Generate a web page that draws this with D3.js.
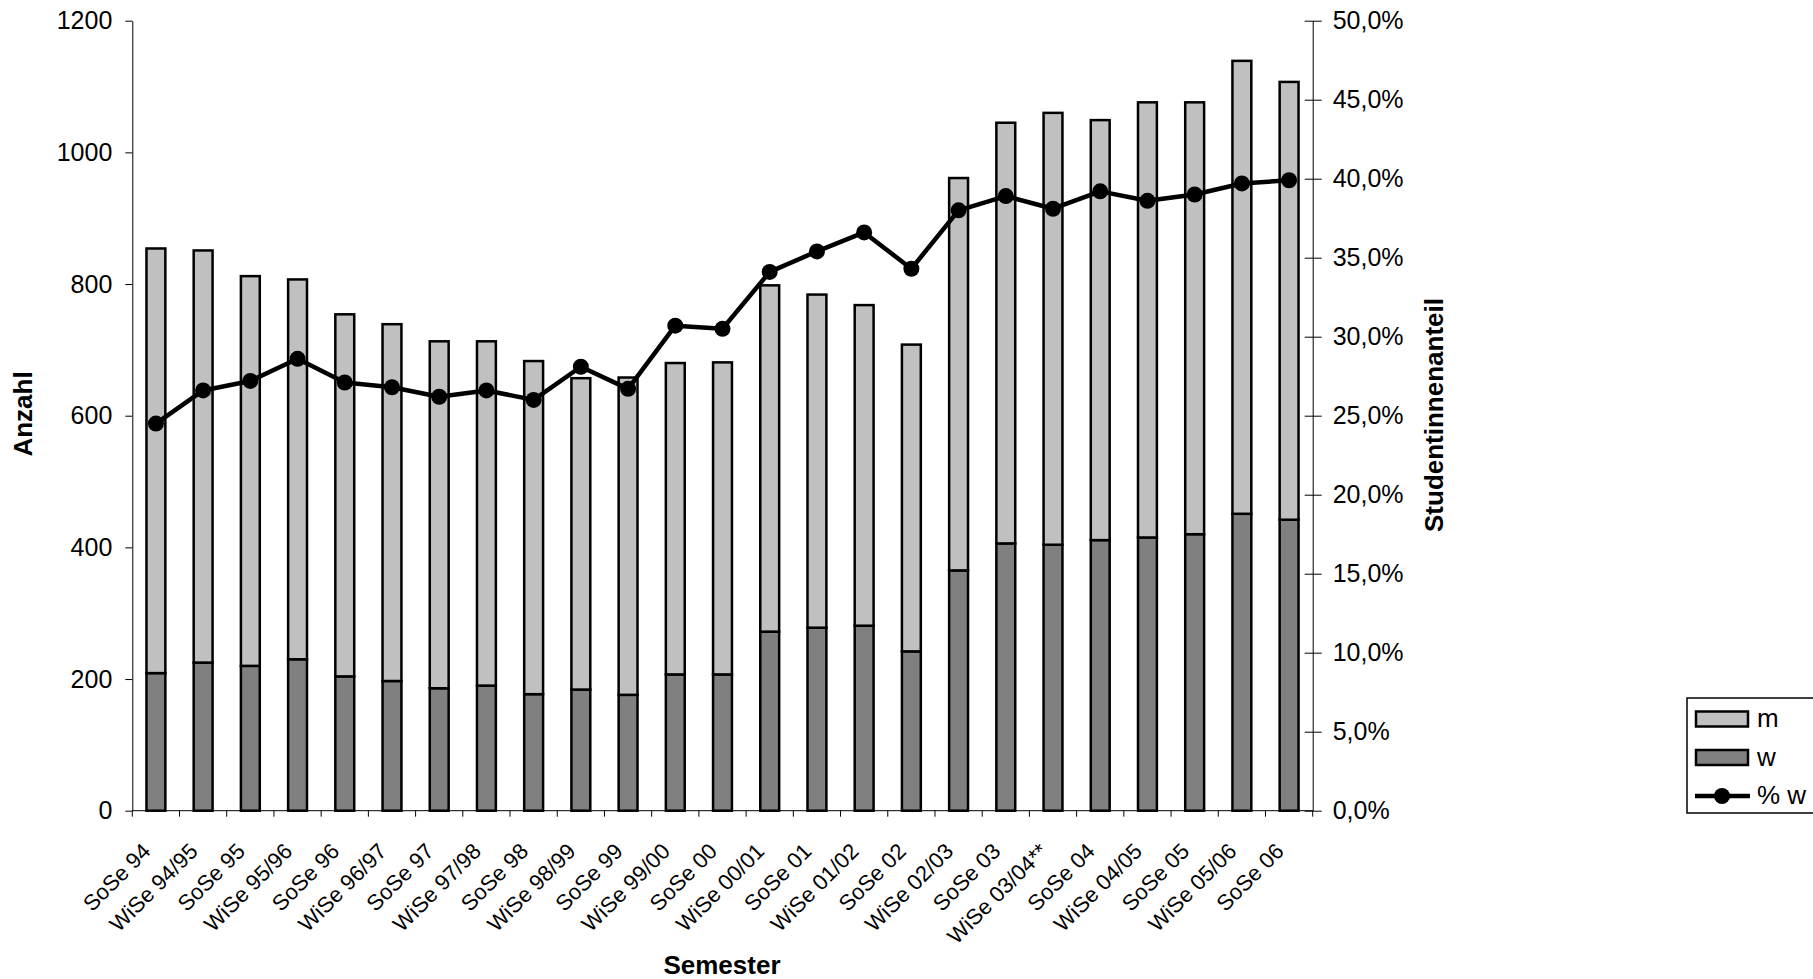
<!DOCTYPE html>
<html>
<head>
<meta charset="utf-8">
<script src="https://cdn.jsdelivr.net/npm/d3@7"></script>
<style>
  body { margin: 0; background: #fff; }
  text { font-family: "Liberation Sans", Arial, sans-serif; fill: #000; }
</style>
</head>
<body>
<div id="chart"></div>
<script>
// semesters on the x axis
var semester = ["SoSe 94", "WiSe 94/95", "SoSe 95", "WiSe 95/96", "SoSe 96", "WiSe 96/97",
    "SoSe 97", "WiSe 97/98", "SoSe 98", "WiSe 98/99", "SoSe 99", "WiSe 99/00", "SoSe 00",
    "WiSe 00/01", "SoSe 01", "WiSe 01/02", "SoSe 02", "WiSe 02/03", "SoSe 03", "WiSe 03/04**",
    "SoSe 04", "WiSe 04/05", "SoSe 05", "WiSe 05/06", "SoSe 06"];

// female students (bottom segment)
var w = [209, 225, 220, 230, 204, 197, 186, 190, 177, 184, 176, 207, 207,
    272, 278, 281, 242, 365, 406, 404, 411, 415, 420, 451, 442];

// male students (top segment)
var m = [645, 626, 592, 577, 550, 542, 527, 523, 506, 473, 482, 473, 474,
    526, 506, 487, 466, 596, 639, 656, 638, 661, 656, 688, 665];

// share of female students in percent
var anteil = [24.5, 26.6, 27.2, 28.6, 27.1, 26.8, 26.2, 26.6, 26.0, 28.1, 26.7, 30.7, 30.5,
    34.1, 35.4, 36.6, 34.3, 38.0, 38.9, 38.1, 39.2, 38.6, 39.0, 39.7, 39.9];

var leftTicks = [0, 200, 400, 600, 800, 1000, 1200];
var rightTicks = [0, 5, 10, 15, 20, 25, 30, 35, 40, 45, 50];

function init() {
    var width = 1813;
    var height = 979;

    var left = 132.3, right = 1312.7, top = 20.7, bottom = 810.7;

    var svg = d3.select("#chart")
        .append("svg")
        .attr("width", width)
        .attr("height", height);

    svg.append("rect")
        .attr("width", width)
        .attr("height", height)
        .attr("fill", "#fff");

    var x = d3.scaleBand()
        .domain(semester)
        .range([left, right])
        .paddingInner(0.6)
        .paddingOuter(0.3);

    var y = d3.scaleLinear().domain([0, 1200]).range([bottom, top]);
    var yR = d3.scaleLinear().domain([0, 50]).range([bottom, top]);

    // stacked bars
    var rows = semester.map(function (s, i) {
        return { sem: s, w: w[i], m: m[i] };
    });
    var stack = d3.stack().keys(["w", "m"])(rows);
    var colors = { w: "#808080", m: "#c0c0c0" };

    svg.selectAll("g.layer")
        .data(stack)
        .enter()
        .append("g")
        .attr("class", "layer")
        .attr("fill", function (d) { return colors[d.key]; })
        .selectAll("rect")
        .data(function (d) { return d; })
        .enter()
        .append("rect")
        .attr("x", function (d) { return x(d.data.sem); })
        .attr("width", x.bandwidth())
        .attr("y", function (d) { return y(d[1]); })
        .attr("height", function (d) { return y(d[0]) - y(d[1]); })
        .attr("stroke", "#000")
        .attr("stroke-width", 2.5);

    // left axis
    var axL = svg.append("g")
        .attr("transform", "translate(" + left + ",0)")
        .call(d3.axisLeft(y).tickValues(leftTicks).tickFormat(d3.format("d"))
            .tickSize(7).tickSizeOuter(0).tickPadding(13));
    axL.selectAll("text").style("font-size", "25px").style("font-family", "Liberation Sans, Arial, sans-serif");

    // right axis, ticks cross the line
    var axR = svg.append("g")
        .attr("transform", "translate(" + right + ",0)")
        .call(d3.axisRight(yR).tickValues(rightTicks).tickSize(9).tickSizeOuter(0).tickPadding(11)
            .tickFormat(function (d) { return d.toFixed(1).replace(".", ",") + "%"; }));
    axR.selectAll(".tick line").attr("x1", -8);
    axR.selectAll("text").style("font-size", "25px").style("font-family", "Liberation Sans, Arial, sans-serif");

    // bottom axis, labels at band centres
    var axB = svg.append("g")
        .attr("transform", "translate(0," + bottom + ")")
        .call(d3.axisBottom(x).tickSize(0).tickSizeOuter(0));
    axB.select(".domain").attr("d", "M" + left + ",0H" + right);
    axB.selectAll("text")
        .attr("x", 0)
        .attr("y", 0)
        .attr("dy", null)
        .attr("text-anchor", "end")
        .attr("transform", "translate(-4,42) rotate(-45)")
        .style("font-size", "22px")
        .style("font-family", "Liberation Sans, Arial, sans-serif");

    // tick marks between the bars
    var bounds = d3.range(semester.length + 1);
    axB.selectAll("line.sep")
        .data(bounds)
        .enter()
        .append("line")
        .attr("class", "sep")
        .attr("x1", function (k) { return left + k * x.step(); })
        .attr("x2", function (k) { return left + k * x.step(); })
        .attr("y1", 0)
        .attr("y2", 6)
        .attr("stroke", "#000");

    // line of female share
    var line = d3.line()
        .x(function (d, i) { return x(semester[i]) + x.bandwidth() / 2; })
        .y(function (d) { return yR(d); });

    svg.append("path")
        .datum(anteil)
        .attr("d", line)
        .attr("fill", "none")
        .attr("stroke", "#000")
        .attr("stroke-width", 4.5)
        .attr("stroke-linejoin", "round");

    svg.selectAll("circle.pt")
        .data(anteil)
        .enter()
        .append("circle")
        .attr("class", "pt")
        .attr("cx", function (d, i) { return x(semester[i]) + x.bandwidth() / 2; })
        .attr("cy", function (d) { return yR(d); })
        .attr("r", 8)
        .attr("fill", "#000");

    // axis titles
    svg.append("text")
        .attr("transform", "translate(32,414) rotate(-90)")
        .attr("text-anchor", "middle")
        .style("font-size", "26px")
        .style("font-weight", "bold")
        .text("Anzahl");

    svg.append("text")
        .attr("transform", "translate(1443,415) rotate(-90)")
        .attr("text-anchor", "middle")
        .style("font-size", "26px")
        .style("font-weight", "bold")
        .text("Studentinnenanteil");

    svg.append("text")
        .attr("x", 722)
        .attr("y", 974)
        .attr("text-anchor", "middle")
        .style("font-size", "26px")
        .style("font-weight", "bold")
        .text("Semester");

    // legend
    var lg = svg.append("g");
    lg.append("rect")
        .attr("x", 1687)
        .attr("y", 698)
        .attr("width", 160)
        .attr("height", 115)
        .attr("fill", "#fff")
        .attr("stroke", "#000")
        .attr("stroke-width", 1.5);

    var items = [
        { label: "m", type: "bar", fill: colors.m, cy: 719 },
        { label: "w", type: "bar", fill: colors.w, cy: 757.5 },
        { label: "% w", type: "line", cy: 796 }
    ];

    items.forEach(function (it) {
        if (it.type == "bar") {
            lg.append("rect")
                .attr("x", 1696)
                .attr("y", it.cy - 7.5)
                .attr("width", 52)
                .attr("height", 15)
                .attr("fill", it.fill)
                .attr("stroke", "#000")
                .attr("stroke-width", 2.5);
        } else {
            lg.append("line")
                .attr("x1", 1695)
                .attr("x2", 1750)
                .attr("y1", it.cy)
                .attr("y2", it.cy)
                .attr("stroke", "#000")
                .attr("stroke-width", 4.5);
            lg.append("circle")
                .attr("cx", 1722)
                .attr("cy", it.cy)
                .attr("r", 8)
                .attr("fill", "#000");
        }
        lg.append("text")
            .attr("x", 1757)
            .attr("y", it.cy + 8)
            .style("font-size", "26px")
            .text(it.label);
    });
}

window.onload = init;
</script>
</body>
</html>
